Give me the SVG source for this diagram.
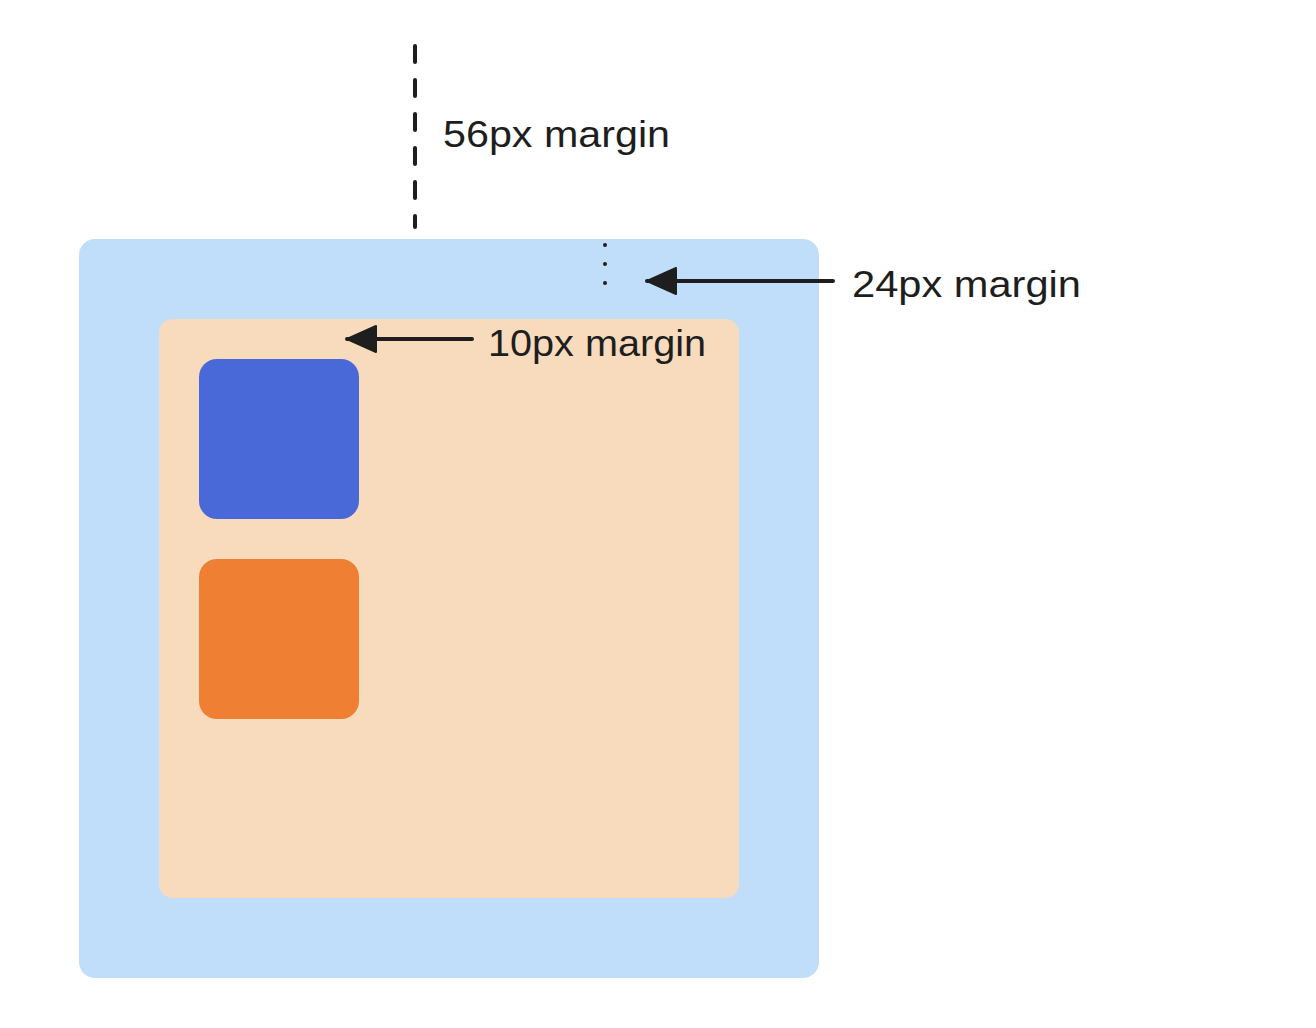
<svg xmlns="http://www.w3.org/2000/svg" width="1316" height="1028" viewBox="0 0 1316 1028">
<style>
.lbl{font-family:"Liberation Sans",Arial,sans-serif;font-size:36px;fill:#1e1e1e}
.ln{stroke:#1e1e1e;stroke-width:4;stroke-linecap:round;fill:none}
</style>
<defs>
<marker id="ah" markerUnits="userSpaceOnUse" markerWidth="34" markerHeight="30" refX="31" refY="15" orient="auto" viewBox="0 0 34 30">
<path d="M2 2 L31 15 L2 28 Z" fill="#1e1e1e" stroke="#1e1e1e" stroke-width="2" stroke-linejoin="round"/>
</marker>
</defs>
<rect width="1316" height="1028" fill="#ffffff"/>
<g id="outer"><rect x="79" y="239" width="740" height="739" rx="16" fill="#c0ddf9"/></g>
<g id="inner"><rect x="159" y="319" width="580" height="579" rx="14" fill="#f8dbbd"/></g>
<g id="blue"><rect x="199" y="359" width="160" height="160" rx="18" fill="#4969d9"/></g>
<g id="orange"><rect x="199" y="559" width="160" height="160" rx="18" fill="#ee7f33"/></g>
<g id="connectors">
<line class="ln" x1="415" y1="46" x2="415" y2="227" stroke-dasharray="16 18" stroke-width="4.5"/>
<line class="ln" x1="605" y1="245" x2="605" y2="302" stroke-dasharray="0 19" stroke-width="6"/>
<line class="ln" x1="833" y1="281" x2="647" y2="281" marker-end="url(#ah)"/>
<line class="ln" x1="472" y1="339" x2="347" y2="339" marker-end="url(#ah)"/>
</g>
<g id="labels">
<text class="lbl" x="443" y="147" textLength="227" lengthAdjust="spacingAndGlyphs">56px margin</text>
<text class="lbl" x="852" y="297" textLength="229" lengthAdjust="spacingAndGlyphs">24px margin</text>
<text class="lbl" x="488" y="356" textLength="218" lengthAdjust="spacingAndGlyphs">10px margin</text>
</g>
</svg>
